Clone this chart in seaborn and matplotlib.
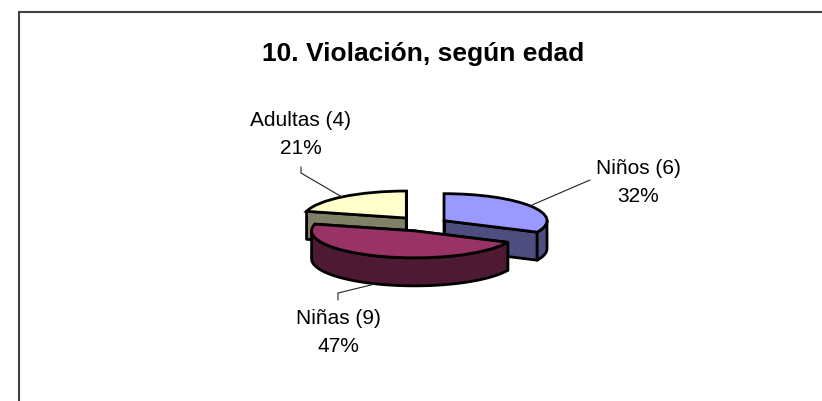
import numpy as np
import matplotlib
matplotlib.use("Agg")
import matplotlib.pyplot as plt
from matplotlib.lines import Line2D
from matplotlib.patches import Polygon
from matplotlib.transforms import Affine2D
import seaborn as sns

# ---- data ----
categories = ["Niños", "Niñas", "Adultas"]
counts = [6, 9, 4]
percents = [32, 47, 21]
title = "10. Violación, según edad"

# ---- style ----
top_colors = ["#9999FF", "#993366", "#FFFFCC"]
wall_colors = ["#4D4D80", "#4D1933", "#808066"]
explode = [0.23, 0.27, 0.28]
draw_order = [2, 0, 1]

sns.set_theme(style="white")
plt.rcParams["font.family"] = ["Liberation Sans", "DejaVu Sans"]

W, H = 822, 401
fig = plt.figure(figsize=(W / 100, H / 100), dpi=100, facecolor="white")
ax = fig.add_axes([0, 0, 1, 1])

CX, CY = 424, 224      # pie centre, pixels
AX, AY = 103, 27       # ellipse semi-axes, pixels
DEPTH = 28 / AY        # extrusion in y data units
EDGE = 2.0

wedges, _ = ax.pie(
    percents, explode=explode, colors=top_colors, startangle=90,
    counterclock=False, radius=1,
    wedgeprops=dict(edgecolor="black", linewidth=EDGE, joinstyle="miter"),
)
ax.set_aspect("auto")
ax.set_xlim(-CX / AX, (W - CX) / AX)
ax.set_ylim(-(H - CY) / AY, CY / AY)
ax.axis("off")


def rim(w, t):
    return np.array([w.center[0] + w.r * np.cos(np.radians(t)),
                     w.center[1] + w.r * np.sin(np.radians(t))])


for order, i in enumerate(draw_order):
    w = wedges[i]
    base = 2 + 3 * order
    w.set_zorder(base + 2)
    c = np.array(w.center)
    down = np.array([0, -DEPTH])
    # cut faces of the slice
    for t in (w.theta1, w.theta2):
        p = rim(w, t)
        ax.add_patch(Polygon([c, p, p + down, c + down], closed=True,
                             facecolor=wall_colors[i], edgecolor="black",
                             linewidth=EDGE, joinstyle="round", zorder=base))
    # visible part of the outer wall (front half of the ellipse)
    lo, hi = max(w.theta1, -180), min(w.theta2, 0)
    if hi > lo:
        ts = np.linspace(lo, hi, 80)
        arc = np.array([rim(w, t) for t in ts])
        ax.add_patch(Polygon(np.vstack([arc, (arc + down)[::-1]]), closed=True,
                             facecolor=wall_colors[i], edgecolor="black",
                             linewidth=EDGE, joinstyle="round", zorder=base + 1))

# pixel-space helper (y downward, matches the image)
px = Affine2D().scale(1, -1).translate(0, H)

fig.text(423, 54, title, transform=px, ha="center", va="center",
         fontsize=19, fontweight="bold", color="black")

label_pos = [(638, 182.5), (338, 333), (301, 135)]
leaders = [
    ([532, 590], [205, 180]),
    ([375, 338, 338], [284, 293, 300]),
    ([342, 301, 301], [197, 173, 167]),
]
for i, (x, y) in enumerate(label_pos):
    fig.text(x, y, f"{categories[i]} ({counts[i]})\n{percents[i]}%", transform=px,
             ha="center", va="center", fontsize=15, color="black",
             linespacing=1.6)
    fig.add_artist(Line2D(leaders[i][0], leaders[i][1], transform=px,
                          color="#222222", lw=0.8))

# chart-area border: only left and top are inside the picture
fig.add_artist(Line2D([18.5, 18.5, W], [H, 12, 12], transform=px,
                      color="#404040", lw=1.5, solid_joinstyle="miter"))

fig.savefig("out.png", dpi=100, facecolor="white")
